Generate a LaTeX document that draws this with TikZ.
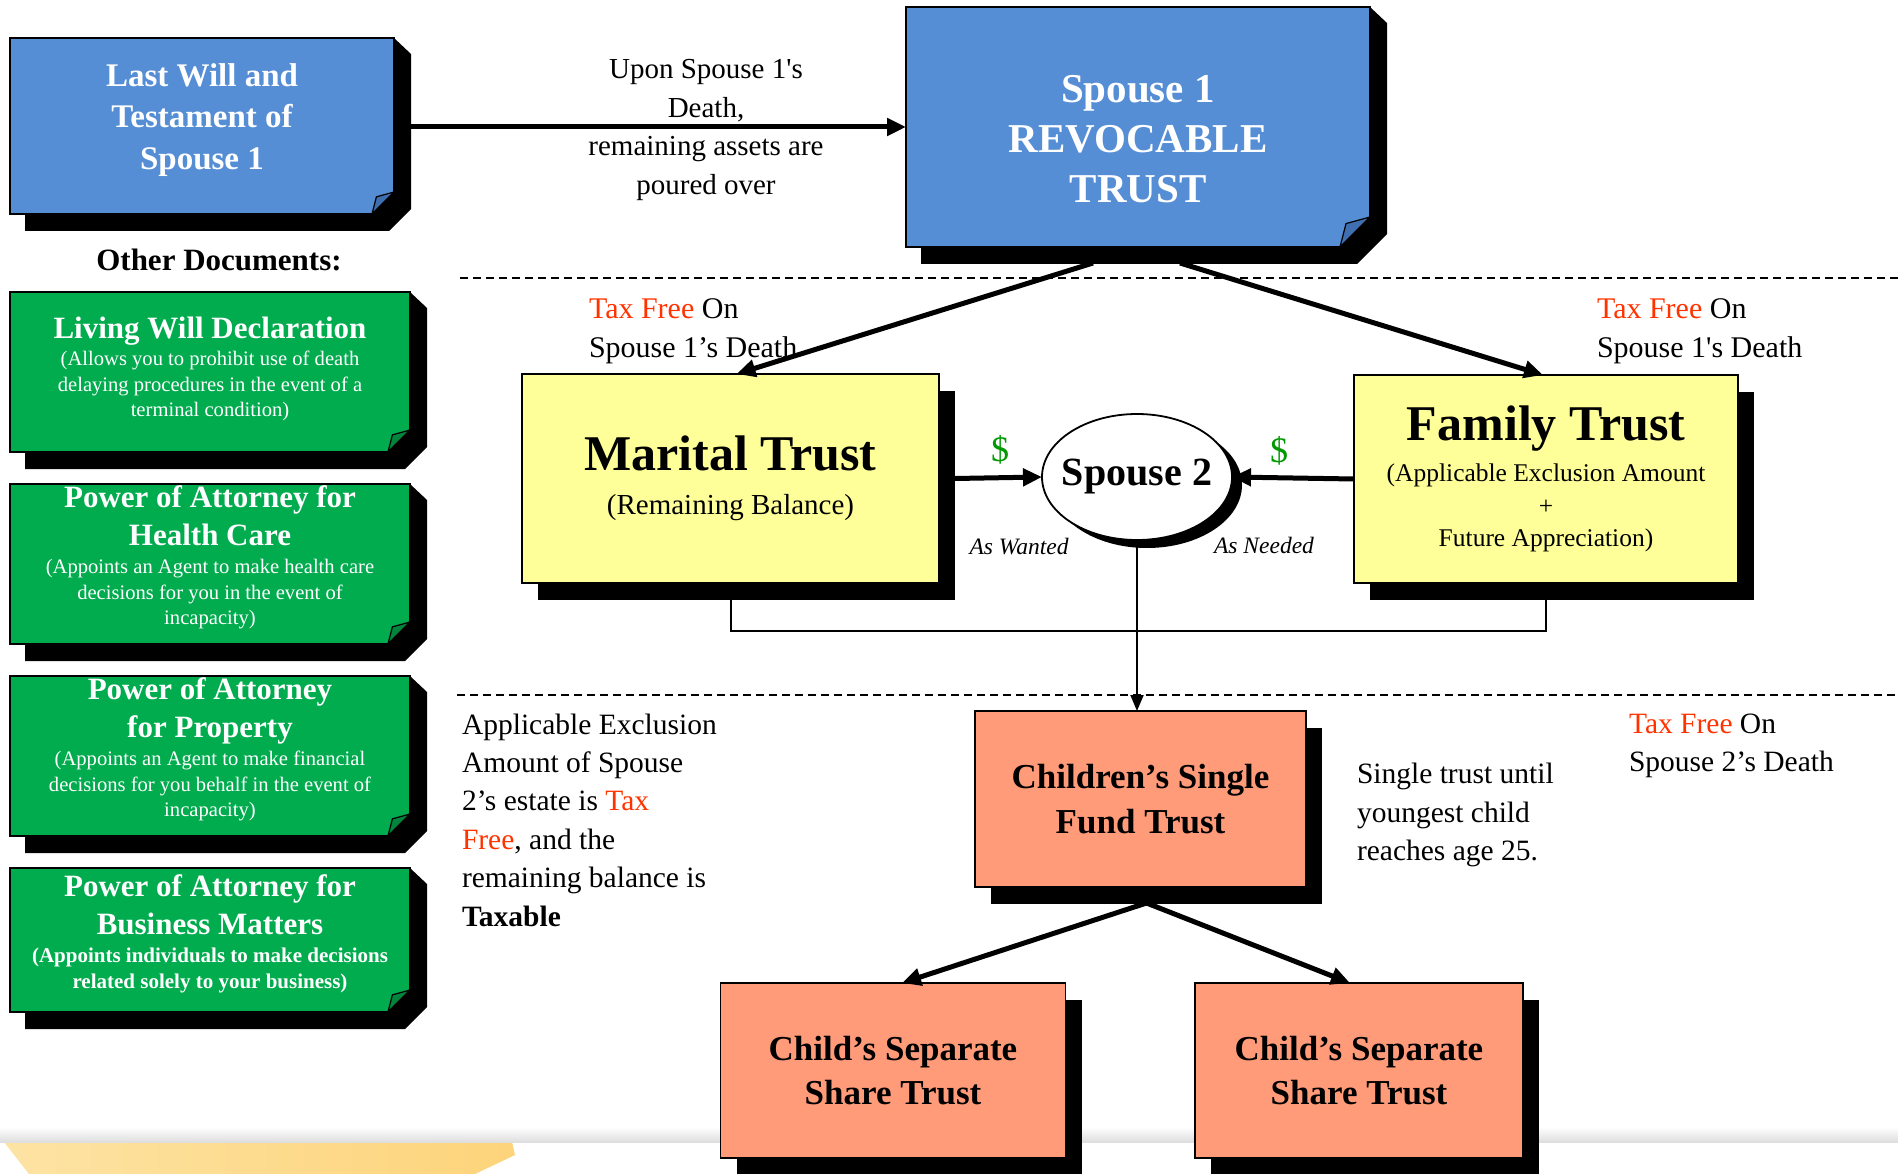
\documentclass[tikz,border=0pt]{standalone}
\usepackage{fontspec}
\setmainfont{Liberation Serif}
\usetikzlibrary{arrows.meta,shapes.geometric,shadows,backgrounds}
\pgfdeclarelayer{bottom}
\pgfsetlayers{bottom,background,main}
\definecolor{noteblue}{HTML}{558ED5}
\definecolor{foldblue}{HTML}{3F6FB0}
\definecolor{notegreen}{HTML}{00AC4E}
\definecolor{foldgreen}{HTML}{00853C}
\definecolor{trustyellow}{HTML}{FFFF99}
\definecolor{salmon}{HTML}{FF9B79}
\definecolor{taxred}{HTML}{FF3300}
\definecolor{dollargreen}{HTML}{009900}
\definecolor{bandyellowA}{HTML}{FDE3A4}
\definecolor{bandyellowB}{HTML}{FDD47A}
\newcommand\FS[2]{\fontsize{#1}{#2}\selectfont\spaceskip=\fontdimen2\font\xspaceskip=\fontdimen2\font\relax}
% name, fill, fold fill, cut size
\newcommand\NoteBox[4]{%
  \begin{scope}[on background layer]
  \fill[black] ([shift={(15pt,0pt)}]#1.south west) -- ([shift={(15pt,-17pt)}]#1.south west)
    -- ([shift={(17pt-#4,-17pt)}]#1.south east) -- ([shift={(17pt,#4-17pt)}]#1.south east)
    -- ([shift={(17pt,-16pt)}]#1.north east) -- (#1.north east) -- cycle;
  \filldraw[fill=#2,draw=black,line width=1.8pt,line join=miter] (#1.north west) -- (#1.north east)
    -- ([yshift=#4]#1.south east) -- ([xshift=-#4]#1.south east) -- (#1.south west) -- cycle;
  \filldraw[fill=#3,draw=black,line width=1.2pt] ([xshift=-#4]#1.south east)
    -- ([shift={(-0.8*#4,0.78*#4)}]#1.south east) -- ([yshift=#4]#1.south east) -- cycle;
  \end{scope}}
\tikzset{
  note/.style={draw=none,inner sep=0pt,outer sep=0pt,align=flush center,text=white},
  plainbox/.style={draw=black,line width=1.8pt,inner sep=0pt,outer sep=0pt,align=flush center,
    drop shadow={shadow xshift=16pt,shadow yshift=-17pt,fill=black,opacity=1}},
  lbl/.style={inner sep=0pt,outer sep=0pt},
  thk/.style={line width=5pt,-{Triangle[length=19pt,width=17pt]}},
  thn/.style={line width=2pt},
  dashline/.style={line width=2pt,dash pattern=on 8pt off 5pt},
}
\begin{document}
\begin{tikzpicture}[x=1pt,y=1pt]
\useasboundingbox (0,0) rectangle (1898,-1174);
\begin{pgfonlayer}{bottom}
\fill[white] (0,0) rectangle (1898,-1174);
\shade[left color=bandyellowA,right color=bandyellowB] (4,-1142) -- (512,-1142) -- (515,-1155) -- (475,-1174) -- (29,-1174) -- cycle;
\shade[top color=white,bottom color=black!13] (0,-1127) rectangle (1898,-1142);
\end{pgfonlayer}

% dashed separators
\coordinate (d1a) at (460,-278); \coordinate (d1b) at (1898,-278);
\coordinate (d2a) at (457,-695); \coordinate (d2b) at (1898,-695);
\draw[dashline] (d1a) -- (d1b);
\draw[dashline] (d2a) -- (d2b);

% note boxes
\node[note,minimum width=384pt,minimum height=176pt,text width=380pt] (will) at (202,-126)
  {{\FS{33}{41.5}\bfseries Last Will and\\Testament of\\Spouse 1\par}\vspace{12pt}};
\NoteBox{will}{noteblue}{foldblue}{22pt}
\node[note,minimum width=464pt,minimum height=240pt,text width=460pt] (rev) at (1138,-127)
  {{\FS{41}{50}\bfseries Spouse 1\\REVOCABLE\\TRUST\par}\vspace{-24pt}};
\NoteBox{rev}{noteblue}{foldblue}{30pt}

\node[lbl,font=\FS{31}{36}\bfseries] (other) at (219,-260) {Other Documents:};

\node[note,minimum width=400pt,minimum height=160pt,text width=396pt] (living) at (210,-372)
  {{\FS{31}{34}\bfseries Living Will Declaration\par}\vspace{2pt}%
   {\FS{20.6}{25.5}(Allows you to prohibit use of death\\delaying procedures in the event of a\\terminal condition)\par}\vspace{6pt}};
\NoteBox{living}{notegreen}{foldgreen}{22pt}
\node[note,minimum width=400pt,minimum height=160pt,text width=396pt] (health) at (210,-564)
  {{\FS{31}{38}\bfseries Power of Attorney for\\Health Care\par}\vspace{3pt}%
   {\FS{20.6}{25.5}(Appoints an Agent to make health care\\decisions for you in the event of\\incapacity)\par}\vspace{13pt}};
\NoteBox{health}{notegreen}{foldgreen}{22pt}
\node[note,minimum width=400pt,minimum height=160pt,text width=396pt] (property) at (210,-756)
  {{\FS{31}{38}\bfseries Power of Attorney\\for Property\par}\vspace{3pt}%
   {\FS{20.6}{25.5}(Appoints an Agent to make financial\\decisions for you behalf in the event of\\incapacity)\par}\vspace{13pt}};
\NoteBox{property}{notegreen}{foldgreen}{22pt}
\node[note,minimum width=400pt,minimum height=144pt,text width=396pt] (business) at (210,-940)
  {{\FS{31}{38}\bfseries Power of Attorney for\\Business Matters\par}\vspace{3pt}%
   {\FS{21}{25.5}\bfseries (Appoints individuals to make decisions\\related solely to your business)\par}\vspace{13pt}};
\NoteBox{business}{notegreen}{foldgreen}{22pt}

% trusts
\node[plainbox,fill=trustyellow,minimum width=417pt,minimum height=209pt,text width=405pt] (mar) at (730.5,-478.5)
  {{\FS{50}{56}\bfseries Marital Trust\par}\vspace{10pt}{\FS{29}{34}(Remaining Balance)\par}\vspace{-28pt}};
\node[plainbox,fill=trustyellow,minimum width=384pt,minimum height=208pt,text width=374pt] (fam) at (1546,-479)
  {{\FS{50}{56}\bfseries Family Trust\par}\vspace{9pt}{\FS{25.5}{32.5}(Applicable Exclusion Amount\\+\\Future Appreciation)\par}\vspace{-30pt}};
\node[ellipse,draw=black,line width=1.8pt,fill=white,inner sep=0pt,outer sep=0pt,
  minimum width=190pt,minimum height=126pt,font=\FS{40}{46}\bfseries,
  drop shadow={shadow xshift=10pt,shadow yshift=-8pt,fill=black,opacity=1}] (sp2) at (1137,-477)
  {\makebox[0pt]{Spouse 2}};
\node[plainbox,fill=salmon,minimum width=331pt,minimum height=176pt,font=\FS{35}{45}\bfseries,align=center] (ch) at (1140.5,-799)
  {Children’s Single\\Fund Trust};
\node[plainbox,fill=salmon,minimum width=345pt,minimum height=175pt,font=\FS{35}{44}\bfseries,align=center] (cl) at (893,-1070.5)
  {Child’s Separate\\Share Trust};
\node[plainbox,fill=salmon,minimum width=328pt,minimum height=175pt,font=\FS{35}{44}\bfseries,align=center] (cr) at (1359,-1070.5)
  {Child’s Separate\\Share Trust};

% labels
\node[lbl,align=center,font=\FS{29}{38.5}] (upon) at (706,-130)
  {Upon Spouse 1\textquotesingle s\\Death,\\remaining assets are\\poured over};
\node[lbl,align=left,anchor=west,font=\FS{30}{39}] (tf1) at (589,-331)
  {\textcolor{taxred}{Tax Free} On\\Spouse 1’s Death};
\node[lbl,align=left,anchor=west,font=\FS{30}{39}] (tf2) at (1597,-331)
  {\textcolor{taxred}{Tax Free} On\\Spouse 1\textquotesingle s Death};
\node[lbl,text=dollargreen,font=\FS{36}{40}] (dl) at (1000,-450) {\$};
\node[lbl,text=dollargreen,font=\FS{36}{40}] (dr) at (1279,-451) {\$};
\node[lbl,font=\FS{23.5}{26}\itshape] (want) at (1019,-547) {As Wanted};
\node[lbl,font=\FS{23.5}{26}\itshape] (need) at (1264,-545) {As Needed};
\node[lbl,align=left,anchor=west,font=\FS{29.5}{38.4}] (appl) at (462,-820)
  {Applicable Exclusion\\Amount of Spouse\\2’s estate is \textcolor{taxred}{Tax}\\\textcolor{taxred}{Free}, and the\\remaining balance is\\\textbf{Taxable}};
\node[lbl,align=left,anchor=west,font=\FS{29.5}{38.5}] (single) at (1357,-815)
  {Single trust until\\youngest child\\reaches age 25.};
\node[lbl,align=left,anchor=west,font=\FS{29.5}{38.5}] (tf3) at (1629,-746)
  {\textcolor{taxred}{Tax Free} On\\Spouse 2’s Death};

% connectors
\draw[thk] ([xshift=17pt]will.east |- rev.west) -- (rev.west);
\coordinate (s1l) at ([shift={(-45pt,-16pt)}]rev.south);
\coordinate (s1r) at ([shift={(42pt,-16pt)}]rev.south);
\draw[thk] (s1l) -- ([xshift=6pt]mar.north);
\draw[thk] (s1r) -- ([xshift=-3pt]fam.north);
\draw[thk] ([xshift=16pt]mar.east) -- (sp2.west);
\draw[thk] (fam.west) -- (sp2.east);
\draw[thn] (mar.south) -- ++(0,-48) -| (fam.south);
\draw[thn,-{Triangle[length=16pt,width=13pt]}] (sp2.south) -- (sp2.south |- ch.north);
\coordinate (chs) at ([shift={(6pt,-16pt)}]ch.south);
\draw[thk] (chs) -- ([xshift=9pt]cl.north);
\draw[thk] (chs) -- ([xshift=-9pt]cr.north);
\end{tikzpicture}
\end{document}
